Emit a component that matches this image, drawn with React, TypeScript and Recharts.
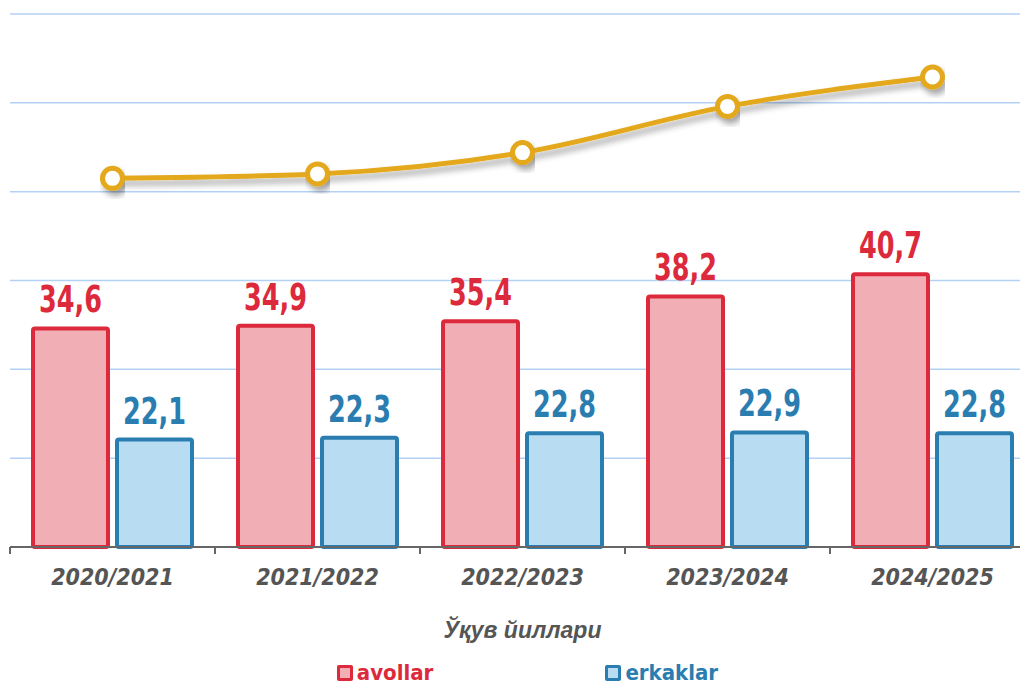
import React from "react"
import {
  ComposedChart,
  Bar,
  Line,
  XAxis,
  YAxis,
  CartesianGrid,
  LabelList,
  Label,
  Legend,
} from "recharts"

const years = ["2020/2021", "2021/2022", "2022/2023", "2023/2024", "2024/2025"]
const avollar = [34.6, 34.9, 35.4, 38.2, 40.7]
const erkaklar = [22.1, 22.3, 22.8, 22.9, 22.8]
// trend line has no labels, values read off the picture on the same scale
const trend = [51.5, 52.0, 54.4, 59.6, 62.9]
const gridTicks = [10, 20, 30, 40, 50, 60, 70]

const RED = "#dc2a3c"
const PINK = "#f2aeb5"
const BLUE = "#2a7db0"
const LIGHTBLUE = "#b8ddf2"
const GOLD = "#e3a81c"
const condensed = "'DejaVu Sans Condensed', 'DejaVu Sans', sans-serif"

const data = years.map((year, i) => ({
  year,
  avollar: avollar[i],
  erkaklar: erkaklar[i],
  trend: trend[i],
}))

const fmt = (v: any) => String(v).replace(".", ",")

// tall narrow value labels, the original uses an Impact-like face
function valueLabel(color: string) {
  return (props: any) => {
    const { x, y, width, value } = props
    const cx = x + width / 2
    return (
      <text
        transform={`translate(${cx}, ${y - 16}) scale(0.86, 1.12)`}
        textAnchor="middle"
        fill={color}
        fontFamily={condensed}
        fontWeight="bold"
        fontSize={33}
      >
        {fmt(value)}
      </text>
    )
  }
}

function YearTick(props: any) {
  const { x, y, payload } = props
  const half = payload.offset || 0
  return (
    <g>
      <line x1={x - half} x2={x - half} y1={y - 8} y2={y - 1} stroke="#666" strokeWidth={2} />
      <text
        x={x}
        y={y + 22}
        textAnchor="middle"
        dominantBaseline="central"
        fill="#555"
        fontFamily={condensed}
        fontStyle="italic"
        fontWeight="bold"
        fontSize={23}
      >
        {payload.value}
      </text>
    </g>
  )
}

function LegendBox() {
  const item = (label: string, stroke: string, fill: string) => (
    <div style={{ display: "flex", alignItems: "center", gap: 4 }}>
      <span
        style={{
          width: 10,
          height: 10,
          border: `3px solid ${stroke}`,
          borderRadius: 2,
          background: fill,
          display: "inline-block",
        }}
      />
      <span
        style={{
          color: stroke,
          fontFamily: condensed,
          fontWeight: "bold",
          fontSize: 22,
          lineHeight: "22px",
        }}
      >
        {label}
      </span>
    </div>
  )
  return (
    <div style={{ display: "flex", justifyContent: "center", gap: 172, paddingLeft: 10 }}>
      {item("avollar", RED, PINK)}
      {item("erkaklar", BLUE, LIGHTBLUE)}
    </div>
  )
}

export default function App() {
  return (
    <div style={{ margin: "-8px 0 0 -8px", width: 1028, height: 686, overflow: "hidden" }}>
      <ComposedChart
        width={1040}
        height={686}
        data={data}
        margin={{ top: 14, right: 5, left: 10, bottom: 0 }}
        barCategoryGap={23}
        barGap={9}
      >
        <defs>
          <filter id="lineShadow" x="-10%" y="-50%" width="120%" height="200%">
            <feDropShadow dx={3} dy={5} stdDeviation={3} floodColor="#000" floodOpacity={0.35} />
          </filter>
        </defs>
        <CartesianGrid vertical={false} stroke="#b3d1f5" strokeWidth={1.5} />
        <XAxis
          dataKey="year"
          height={115}
          tick={<YearTick />}
          tickLine={false}
          axisLine={{ stroke: "#666", strokeWidth: 2 }}
          interval={0}
        >
          <Label
            value="Ўқув йиллари"
            position="insideBottom"
            offset={24}
            fill="#555"
            fontFamily="'Liberation Sans', Arial, sans-serif"
            fontStyle="italic"
            fontWeight="bold"
            fontSize={23}
          />
        </XAxis>
        <YAxis hide domain={[10, 70]} ticks={gridTicks} />
        <Legend verticalAlign="bottom" height={24} content={<LegendBox />} />
        <Bar
          dataKey="avollar"
          fill={PINK}
          stroke={RED}
          strokeWidth={4}
          radius={2}
          isAnimationActive={false}
        >
          <LabelList dataKey="avollar" content={valueLabel(RED)} />
        </Bar>
        <Bar
          dataKey="erkaklar"
          fill={LIGHTBLUE}
          stroke={BLUE}
          strokeWidth={4}
          radius={2}
          isAnimationActive={false}
        >
          <LabelList dataKey="erkaklar" content={valueLabel(BLUE)} />
        </Bar>
        <Line
          dataKey="trend"
          type="monotone"
          stroke={GOLD}
          strokeWidth={5}
          dot={{ r: 10, fill: "#fff", stroke: GOLD, strokeWidth: 5 }}
          activeDot={false}
          style={{ filter: "url(#lineShadow)" }}
          legendType="none"
          isAnimationActive={false}
        />
      </ComposedChart>
    </div>
  )
}
